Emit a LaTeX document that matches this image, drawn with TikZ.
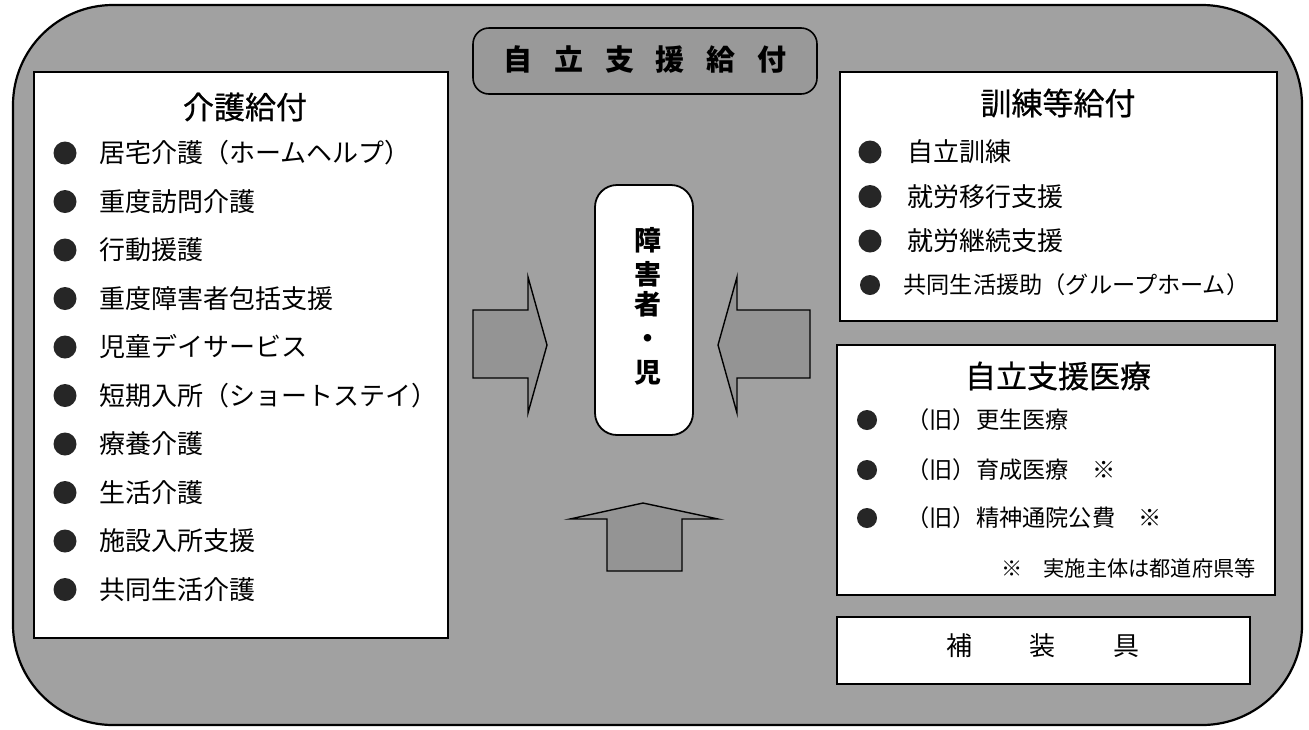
\documentclass[tikz,border=0pt]{standalone}
\usepackage{fontspec}
\setmainfont{Noto Sans CJK JP}
\newfontfamily\medfont[FakeBold=0.7]{Noto Sans CJK JP}
\definecolor{bggray}{gray}{0.63}
\definecolor{titlegray}{gray}{0.60}
\tikzset{
  panel/.style={draw=black, line width=0.8pt, fill=white},
  item/.style={anchor=west, inner sep=0pt, font=\fontsize{13}{15}\selectfont},
  mitem/.style={anchor=west, inner sep=0pt, font=\fontsize{11.6}{14}\selectfont},
  head/.style={inner sep=0pt, font=\medfont\fontsize{15.5}{18}\selectfont},
  dot/.style={circle, fill=black!85, minimum size=11.5pt, inner sep=0pt},
  mdot/.style={circle, fill=black!85, minimum size=10pt, inner sep=0pt},
  bigarrow/.style={draw=black, line width=0.7pt, fill=black!42},
}
\begin{document}
\begin{tikzpicture}[x=0.5pt,y=-0.5pt]
\useasboundingbox (0,0) rectangle (1309,729);
\fill[white] (0,0) rectangle (1309,729);
% outer frame
\draw[line width=1.1pt, fill=bggray, rounded corners=50pt] (13,5) rectangle (1302,725);
% title
\draw[line width=0.8pt, fill=titlegray, rounded corners=8pt] (473,28) rectangle (817,94);
\node[inner sep=0pt, font=\fontsize{14.5}{18}\selectfont\bfseries] (title) at (645,59) {自\hspace{0.75em}立\hspace{0.75em}支\hspace{0.75em}援\hspace{0.75em}給\hspace{0.75em}付};
% left panel
\draw[panel] (34,72) rectangle (448,638);
\node[head] (kaigo) at (245,107) {介護給付};
\foreach \t [count=\i] in {居宅介護（ホームヘルプ）,重度訪問介護,行動援護,重度障害者包括支援,児童デイサービス,短期入所（ショートステイ）,療養介護,生活介護,施設入所支援,共同生活介護}{
  \node[dot] (kd\i) at (65,{153+48.5*(\i-1)}) {};
  \node[item] (kt\i) at (99,{153+48.5*(\i-1)}) {\t};
}
% right upper panel
\draw[panel] (840,72) rectangle (1277,321);
\node[head] (kunren) at (1058,103) {訓練等給付};
\foreach \t [count=\i] in {自立訓練,就労移行支援,就労継続支援}{
  \node[dot] (rd\i) at (870,{152+44.5*(\i-1)}) {};
  \node[item] (rt\i) at (907,{152+44.5*(\i-1)}) {\t};
}
\node[mdot] (rd4) at (870,285) {};
\node[mitem] (rt4) at (903,285) {共同生活援助（グループホーム）};
% medical panel
\draw[panel] (837,345) rectangle (1275,595);
\node[head] (iryo) at (1058,376) {自立支援医療};
\node[mdot] (md1) at (867,420) {};
\node[mitem] (mt1) at (906,420) {（旧）更生医療};
\node[mdot] (md2) at (867,470) {};
\node[mitem] (mt2) at (906,470) {（旧）育成医療\quad ※};
\node[mdot] (md3) at (867,518) {};
\node[mitem] (mt3) at (906,518) {（旧）精神通院公費\quad ※};
\node[anchor=east, inner sep=0pt, font=\fontsize{10.6}{12}\selectfont] (note) at (1256,568) {※\quad 実施主体は都道府県等};
% hosougu
\draw[panel] (837,617) rectangle (1250,684);
\node[inner sep=0pt, font=\fontsize{13}{16}\selectfont] (hosou) at (1043,646) {補\hspace{2.2em}装\hspace{2.2em}具};
% center
\draw[line width=0.9pt, fill=white, rounded corners=11pt] (595,185) rectangle (693,435);
\node[inner sep=0pt, font=\fontsize{13.5}{16}\selectfont\bfseries, align=center] (ptext) at (648,306) {障\\[1pt]害\\[-1pt]者\\[1pt]・\\[1pt]児};
% arrows
\draw[bigarrow] (473,310) -- (528,310) -- (528,277) -- (547,345) -- (528,413) -- (528,378) -- (473,378) -- cycle;
\draw[bigarrow] (810,310) -- (737,310) -- (737,277) -- (718,345) -- (737,413) -- (737,378) -- (810,378) -- cycle;
\draw[bigarrow] (607,571) -- (607,519) -- (570,519) -- (643,503) -- (718,519) -- (682,519) -- (682,571) -- cycle;
\end{tikzpicture}
\end{document}
